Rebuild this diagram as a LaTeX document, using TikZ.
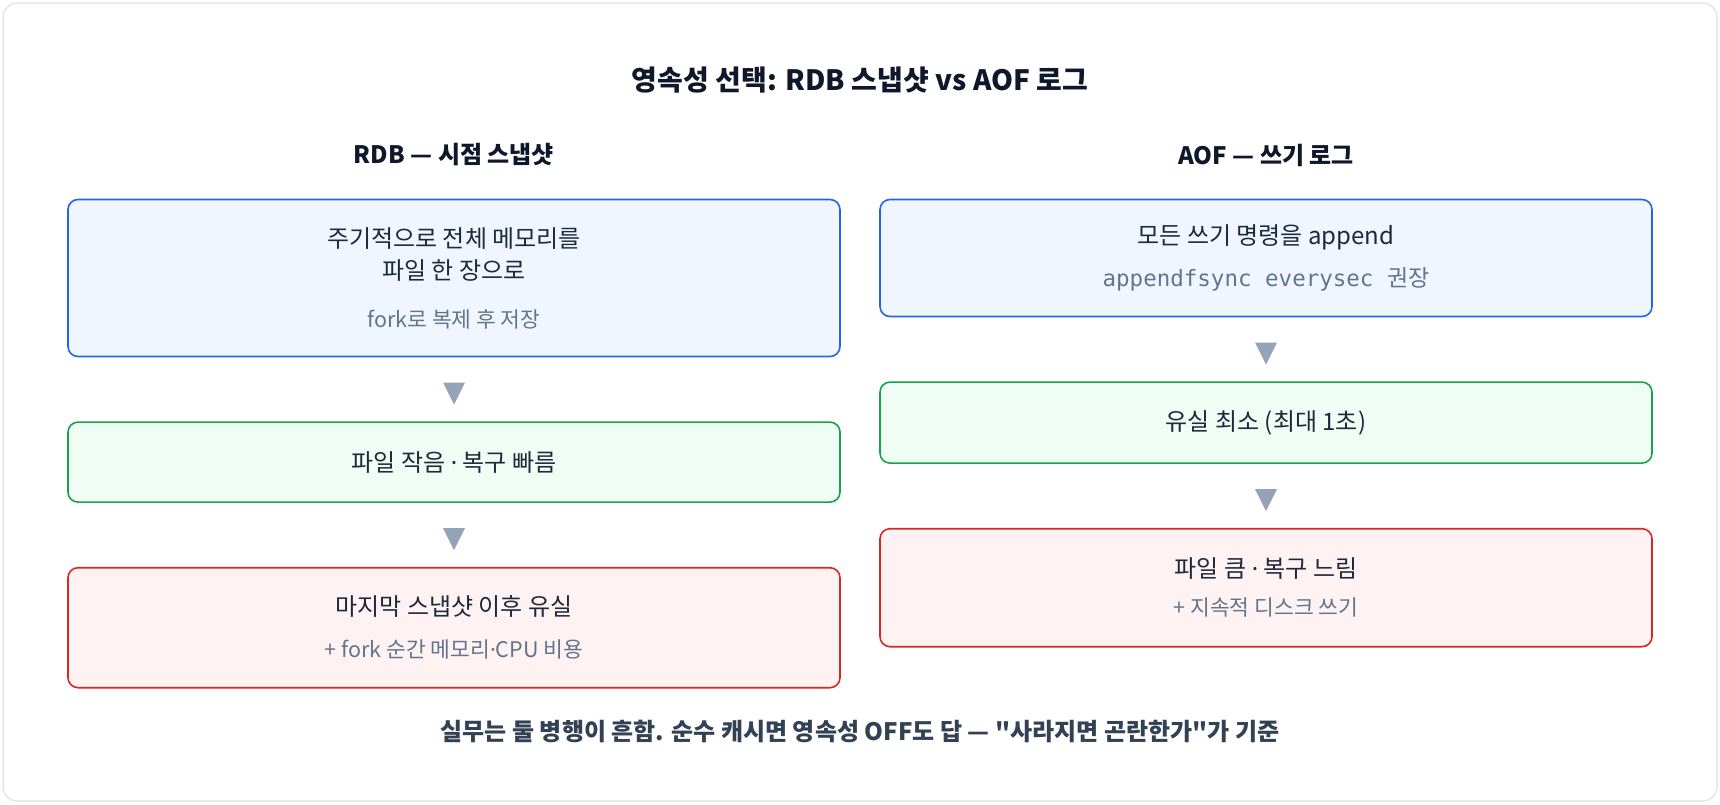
\documentclass[tikz,border=0pt]{standalone}
\usepackage{fontspec}
\setmainfont{Noto Sans CJK KR}
\newfontfamily\codefont{DejaVu Sans Mono}
\newfontfamily\latinfont{Noto Sans}
\usetikzlibrary{shapes.geometric,positioning,calc}
\definecolor{inkdark}{HTML}{0F172A}
\definecolor{inkbody}{HTML}{1E293B}
\definecolor{inkfoot}{HTML}{334155}
\definecolor{inksub}{HTML}{64748B}
\definecolor{framegray}{HTML}{E5E7EB}
\definecolor{tipgray}{HTML}{94A3B8}
\definecolor{infoline}{HTML}{2563EB}
\definecolor{infofill}{HTML}{EFF6FF}
\definecolor{goodline}{HTML}{16A34A}
\definecolor{goodfill}{HTML}{F0FDF4}
\definecolor{badline}{HTML}{DC2626}
\definecolor{badfill}{HTML}{FEF2F2}
\newcommand{\subline}[1]{{\color{inksub}\fontsize{21.5}{24}\selectfont #1}}
\newcommand{\mdot}{{\latinfont ·}}

\begin{document}
\begin{tikzpicture}[x=1pt, y=-1pt,
    box/.style={rectangle, rounded corners=10pt, line width=1.6pt, minimum width=772pt, inner sep=0pt, align=center, text=inkbody, font=\fontsize{24}{32}\selectfont},
    infobox/.style={box, draw=infoline, fill=infofill},
    goodbox/.style={box, draw=goodline, fill=goodfill},
    badbox/.style={box, draw=badline, fill=badfill},
    head/.style={font=\bfseries\fontsize{24}{28}\selectfont, text=inkdark},
    tip/.style={isosceles triangle, isosceles triangle stretches, shape border rotate=-90, minimum width=22pt, minimum height=22pt, inner sep=0pt, fill=tipgray}
]
\useasboundingbox (0,0) rectangle (1720,804);
\draw[framegray, line width=1.5pt, rounded corners=14pt, fill=white] (3,3) rectangle (1717,801);

\node[font=\bfseries\fontsize{28}{32}\selectfont, text=inkdark] (title) at (860,80) {영속성 선택: RDB 스냅샷 vs AOF 로그};

% RDB column
\node[head] (rdbhead) at (454,155) {RDB — 시점 스냅샷};
\node[infobox, minimum height=157pt] (rdbsave) at (454,278) {주기적으로 전체 메모리를\\ 파일 한 장으로\\[16pt] \subline{fork로 복제 후 저장}};
\node[goodbox, minimum height=80pt, below=64pt of rdbsave] (rdbgood) {파일 작음 \mdot{} 복구 빠름};
\node[badbox, minimum height=120pt, below=64pt of rdbgood] (rdbbad) {마지막 스냅샷 이후 유실\\[10pt] \subline{+ fork 순간 메모리\mdot CPU 비용}};

\node[tip] (rdbtipa) at ($(rdbsave.south)!0.5!(rdbgood.north)$) {};
\node[tip] (rdbtipb) at ($(rdbgood.south)!0.5!(rdbbad.north)$) {};

% AOF column
\node[head] (aofhead) at (1266,155) {AOF — 쓰기 로그};
\node[infobox, minimum height=117pt] (aofsave) at (1266,258) {모든 쓰기 명령을 append\\[10pt] \subline{{\codefont\fontsize{22.5}{24}\selectfont appendfsync everysec }{\fontsize{23}{24}\selectfont 권장}}};
\node[goodbox, minimum height=81pt, below=64pt of aofsave] (aofgood) {유실 최소 (최대 1초)};
\node[badbox, minimum height=118pt, below=64pt of aofgood] (aofbad) {파일 큼 \mdot{} 복구 느림\\[6pt] \subline{+ 지속적 디스크 쓰기}};

\node[tip] (aoftipa) at ($(aofsave.south)!0.5!(aofgood.north)$) {};
\node[tip] (aoftipb) at ($(aofgood.south)!0.5!(aofbad.north)$) {};

\node[font=\bfseries\fontsize{24}{28}\selectfont, text=inkfoot] (verdict) at (860,731) {실무는 둘 병행이 흔함. 순수 캐시면 영속성 OFF도 답 — \textquotedbl 사라지면 곤란한가\textquotedbl 가 기준};
\end{tikzpicture}
\end{document}
